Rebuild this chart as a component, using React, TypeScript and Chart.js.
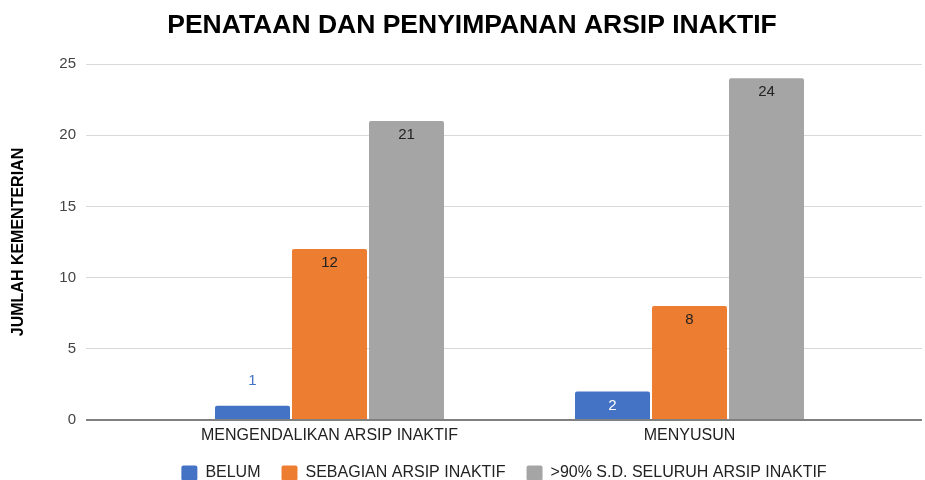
import React, { useEffect, useRef } from 'react';
import { Chart, registerables } from 'chart.js';

Chart.register(...registerables);

const TITLE = 'PENATAAN DAN PENYIMPANAN ARSIP INAKTIF';
const Y_TITLE = 'JUMLAH KEMENTERIAN';
const CATEGORIES = ['MENGENDALIKAN ARSIP INAKTIF', 'MENYUSUN'];
const SERIES_NAMES = ['BELUM', 'SEBAGIAN ARSIP INAKTIF', '>90% S.D. SELURUH ARSIP INAKTIF'];
const BELUM = [1, 2];
const SEBAGIAN = [12, 8];
const SELURUH = [21, 24];
const Y_TICKS = [0, 5, 10, 15, 20, 25];

const COLORS = ['#4472c4', '#ed7d31', '#a5a5a5'];
const INSIDE_LABEL_COLORS = ['#ffffff', '#222222', '#222222'];
const FONT = "'Liberation Sans', Arial, sans-serif";

const titlePlugin = {
  id: 'customTitle',
  afterDraw(chart: any) {
    const ctx = chart.ctx;
    ctx.save();
    ctx.font = `bold 26.5px ${FONT}`;
    ctx.fillStyle = '#000000';
    ctx.textAlign = 'center';
    ctx.textBaseline = 'alphabetic';
    ctx.fillText(TITLE, 472, 33);
    ctx.restore();
  },
};

const valueLabelPlugin = {
  id: 'valueLabels',
  afterDatasetsDraw(chart: any) {
    const ctx = chart.ctx;
    ctx.save();
    ctx.font = `15px ${FONT}`;
    ctx.textAlign = 'center';
    ctx.textBaseline = 'middle';
    chart.data.datasets.forEach((ds: any, di: number) => {
      const meta = chart.getDatasetMeta(di);
      meta.data.forEach((el: any, i: number) => {
        const { x, y, base } = el.getProps(['x', 'y', 'base'], true);
        const h = base - y;
        const v = ds.data[i];
        if (h >= 24) {
          ctx.fillStyle = INSIDE_LABEL_COLORS[di];
          ctx.fillText(String(v), x, y + 14);
        } else {
          ctx.fillStyle = COLORS[di];
          ctx.fillText(String(v), x, y - 25);
        }
      });
    });
    ctx.restore();
  },
};

export default function App() {
  const ref = useRef<HTMLCanvasElement | null>(null);

  useEffect(() => {
    if (!ref.current) return;
    const seriesData = [BELUM, SEBAGIAN, SELURUH];
    const chart = new Chart(ref.current, {
      type: 'bar',
      data: {
        labels: CATEGORIES,
        datasets: SERIES_NAMES.map((name, i) => ({
          label: name,
          data: seriesData[i],
          backgroundColor: COLORS[i],
          borderRadius: { topLeft: 2, topRight: 2, bottomLeft: 0, bottomRight: 0 },
          borderSkipped: false,
          categoryPercentage: 0.6417,
          barPercentage: 0.974,
        })),
      },
      options: {
        animation: false,
        responsive: true,
        maintainAspectRatio: false,
        layout: { padding: { top: 64, right: 3, left: 0, bottom: 0 } },
        plugins: {
          title: { display: false },
          tooltip: { enabled: false },
          legend: {
            position: 'bottom',
            fullSize: false,
            maxHeight: 36,
            labels: {
              boxWidth: 16,
              boxHeight: 15,
              padding: 21,
              color: '#222222',
              font: { family: FONT, size: 16 },
              useBorderRadius: true,
              borderRadius: 2,
            },
          },
        },
        scales: {
          x: {
            grid: { display: false },
            border: { display: false },
            ticks: {
              color: '#222222',
              font: { family: FONT, size: 16, lineHeight: 1 },
              padding: 0,
              autoSkip: false,
              maxRotation: 0,
            },
            afterBuildTicks: (scale: any) => {
              scale._startValue = -0.6764;
              scale._valueRange = 2.3222;
            },
          },
          y: {
            min: Y_TICKS[0],
            max: Y_TICKS[Y_TICKS.length - 1],
            border: { display: false },
            grid: {
              drawTicks: false,
              color: (c: any) => (c.tick && c.tick.value === 0 ? '#808080' : '#d9d9d9'),
              lineWidth: (c: any) => (c.tick && c.tick.value === 0 ? 2 : 1),
            },
            afterBuildTicks: (scale: any) => {
              scale.ticks = Y_TICKS.map((v) => ({ value: v }));
            },
            afterFit: (scale: any) => {
              scale.width = 86;
            },
            ticks: {
              color: '#444444',
              font: { family: FONT, size: 15 },
              padding: 10,
            },
            title: {
              display: true,
              text: Y_TITLE,
              color: '#000000',
              font: { family: FONT, size: 16, weight: 'bold' },
              padding: { top: 9, bottom: 0 },
            },
          },
        },
      },
      plugins: [titlePlugin, valueLabelPlugin],
    });
    return () => chart.destroy();
  }, []);

  return (
    <div style={{ position: 'absolute', left: 0, top: 0, width: '925px', height: '480px', background: '#ffffff' }}>
      <canvas ref={ref} />
    </div>
  );
}
